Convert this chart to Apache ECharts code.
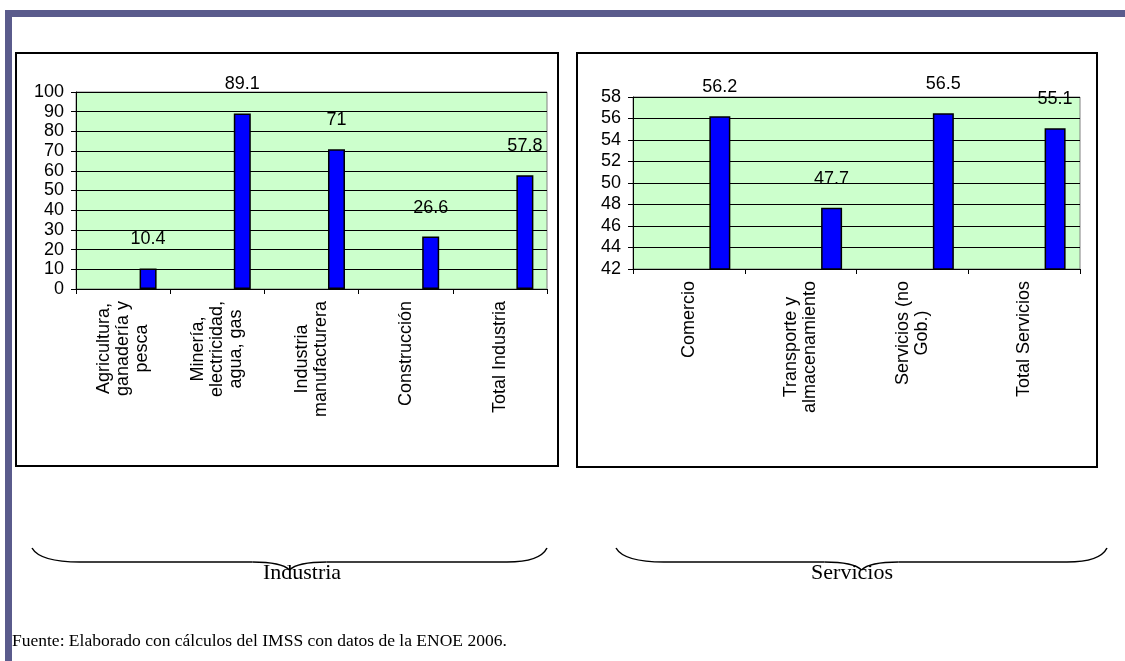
<!DOCTYPE html>
<html>
<head>
<meta charset="utf-8">
<script src="https://cdn.jsdelivr.net/npm/echarts@6/dist/echarts.min.js"></script>
<style>
  html, body { margin: 0; padding: 0; background: #fff; }
  #chart { width: 1125px; height: 661px; }
</style>
</head>
<body>
<div id="chart"></div>
<script>
// Industria
const industriaCats = ['Agricultura,\nganadería y\npesca', 'Minería,\nelectricidad,\nagua, gas', 'Industria\nmanufacturera', 'Construcción', 'Total Industria']
const industriaVals = [10.4, 89.1, 71, 26.6, 57.8]
// Servicios
const serviciosCats = ['Comercio', 'Transporte y\nalmacenamiento', 'Servicios (no\nGob.)', 'Total Servicios']
const serviciosVals = [56.2, 47.7, 56.5, 55.1]

const groupLabels = ['Industria', 'Servicios']
const fuente = 'Fuente: Elaborado con cálculos del IMSS con datos de la ENOE 2006.'

const numFont = "'Liberation Sans Narrow', 'Liberation Sans', Arial, sans-serif"
const catFont = "'Liberation Sans', Arial, sans-serif"
const serif = "'Liberation Serif', 'Times New Roman', serif"

// multi-line labels: centred lines, block anchored at the axis
const catFormatter = v => v.split('\n').map(l => '{c|' + l + '}').join('\n')

// curly brace under each chart (decoration only)
function brace(x1, x2, yEnd, yLine, yTip) {
  const mid = (x1 + x2) / 2
  const st = { stroke: '#000', lineWidth: 1.5, fill: null }
  const seg = [
    { type: 'bezierCurve', shape: { x1: x1, y1: yEnd, cpx1: x1 + 8, cpy1: yLine, x2: x1 + 48, y2: yLine } },
    { type: 'line', shape: { x1: x1 + 48, y1: yLine, x2: mid - 37, y2: yLine } },
    { type: 'bezierCurve', shape: { x1: mid - 37, y1: yLine, cpx1: mid - 8, cpy1: yLine, x2: mid, y2: yTip } },
    { type: 'bezierCurve', shape: { x1: mid, y1: yTip, cpx1: mid + 8, cpy1: yLine, x2: mid + 37, y2: yLine } },
    { type: 'line', shape: { x1: mid + 37, y1: yLine, x2: x2 - 40, y2: yLine } },
    { type: 'bezierCurve', shape: { x1: x2 - 40, y1: yLine, cpx1: x2 - 7, cpy1: yLine, x2: x2, y2: yEnd } },
  ]
  return seg.map(s => ({ ...s, style: st, silent: true }))
}

const xAxisBase = {
  type: 'category',
  axisLine: { lineStyle: { color: '#000', width: 1 } },
  axisTick: { show: true, length: 5, lineStyle: { color: '#000' } },
  axisLabel: {
    rotate: 90, margin: 12, interval: 0, color: '#000',
    formatter: catFormatter,
    rich: { c: { align: 'center', fontFamily: catFont, fontSize: 18, lineHeight: 19, color: '#000' } },
  },
}
const yAxisBase = {
  type: 'value',
  axisLine: { show: true, lineStyle: { color: '#000' } },
  axisTick: { show: true, length: 5, lineStyle: { color: '#000' } },
  axisLabel: { margin: 12, color: '#000', fontFamily: numFont, fontSize: 18 },
  splitLine: { lineStyle: { color: '#000', width: 1 } },
}
const barLabel = { show: true, position: 'top', distance: 20, color: '#000', fontFamily: numFont, fontSize: 18 }
const barStyle = { color: '#0000ff', borderColor: '#000', borderWidth: 1.5 }

const chart = echarts.init(document.getElementById('chart'))
chart.setOption({
  animation: false,
  backgroundColor: '#fff',
  grid: [
    { left: 76, top: 92, width: 471, height: 197, show: true, backgroundColor: '#ccffcc', borderColor: '#808080', borderWidth: 1 },
    { left: 633, top: 97, width: 447, height: 172, show: true, backgroundColor: '#ccffcc', borderColor: '#808080', borderWidth: 1 },
  ],
  xAxis: [
    { ...xAxisBase, gridIndex: 0, data: industriaCats },
    { ...xAxisBase, gridIndex: 1, data: serviciosCats },
  ],
  yAxis: [
    { ...yAxisBase, gridIndex: 0, min: 0, max: 100, interval: 10 },
    { ...yAxisBase, gridIndex: 1, min: 42, max: 58, interval: 2 },
  ],
  series: [
    // empty slot so the bar sits right of centre, like the original
    { type: 'bar', xAxisIndex: 0, yAxisIndex: 0, data: [], barWidth: 17, barGap: '194%' },
    { type: 'bar', xAxisIndex: 0, yAxisIndex: 0, data: industriaVals, barWidth: 17, barGap: '194%', itemStyle: barStyle, label: barLabel },
    { type: 'bar', xAxisIndex: 1, yAxisIndex: 1, data: [], barWidth: 21, barGap: '195%' },
    { type: 'bar', xAxisIndex: 1, yAxisIndex: 1, data: serviciosVals, barWidth: 21, barGap: '195%', itemStyle: barStyle, label: barLabel },
  ],
  graphic: [
    // outer frame
    { type: 'rect', shape: { x: 5, y: 10, width: 1120, height: 7 }, style: { fill: '#5a5b8c' }, silent: true },
    { type: 'rect', shape: { x: 5, y: 10, width: 7, height: 651 }, style: { fill: '#5a5b8c' }, silent: true },
    // chart boxes
    { type: 'rect', shape: { x: 16, y: 53, width: 542, height: 413 }, style: { fill: null, stroke: '#000', lineWidth: 2 }, z: -1, silent: true },
    { type: 'rect', shape: { x: 577, y: 53, width: 520, height: 414 }, style: { fill: null, stroke: '#000', lineWidth: 2 }, z: -1, silent: true },
    // braces + group names
    ...brace(32, 547, 548, 562, 570),
    ...brace(616, 1107, 548, 562, 570),
    { type: 'text', x: 302, y: 562, style: { text: groupLabels[0], fill: '#000', font: '22px ' + serif, textAlign: 'center', textVerticalAlign: 'top' }, silent: true },
    { type: 'text', x: 852, y: 562, style: { text: groupLabels[1], fill: '#000', font: '22px ' + serif, textAlign: 'center', textVerticalAlign: 'top' }, silent: true },
    // source note
    { type: 'text', x: 12, y: 632, style: { text: fuente, fill: '#000', font: '17.5px ' + serif, textAlign: 'left', textVerticalAlign: 'top' }, silent: true },
  ],
})
</script>
</body>
</html>
